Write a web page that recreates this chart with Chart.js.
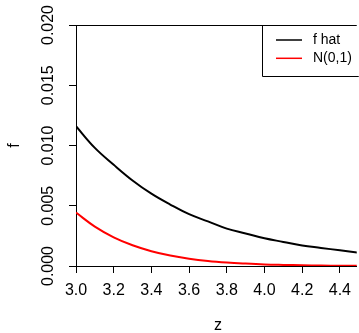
<!DOCTYPE html>
<html>
<head>
<meta charset="utf-8">
<script src="https://cdn.jsdelivr.net/npm/chart.js@4.4.1/dist/chart.umd.min.js"></script>
<style>
  body { margin: 0; background: #fff; }
  #wrap { width: 359px; height: 333px; }
</style>
</head>
<body>
<div id="wrap"><canvas id="densityChart" width="359" height="333"></canvas></div>
<script>
// values
const zValues = [3.0, 3.1, 3.2, 3.3, 3.4, 3.5, 3.6, 3.7, 3.8, 3.9, 4.0, 4.1, 4.2, 4.3, 4.4, 4.5];
const fHat = [0.0116, 0.0098, 0.0084, 0.0071, 0.0060, 0.0051, 0.0043, 0.0037, 0.0031, 0.0027, 0.0023, 0.0020, 0.0017, 0.0015, 0.0013, 0.0011];
const normal01 = [0.00443, 0.00327, 0.00238, 0.00172, 0.00123, 0.00087, 0.00061, 0.00042, 0.00029, 0.00020, 0.00013, 0.00009, 0.00006, 0.00004, 0.00002, 0.00002];
const seriesLabels = ['f hat', 'N(0,1)'];
const seriesColors = ['#000000', '#ff0000'];
const xTitle = 'z';
const yTitle = 'f';

const FONT = '"Liberation Sans", Arial, sans-serif';

function toPoints(ys) {
    return zValues.map((z, i) => ({ x: z, y: ys[i] }));
}

// R style extras: rotated y labels, axis titles, top border, legend box
const rStylePlugin = {
    id: 'rStyle',
    afterDraw(chart) {
        const ctx = chart.ctx;
        const area = chart.chartArea;
        const yScale = chart.scales.y;
        ctx.save();

        // top border of plot box
        ctx.strokeStyle = '#000';
        ctx.lineWidth = 1;
        ctx.beginPath();
        ctx.moveTo(area.left, area.top + 0.5);
        ctx.lineTo(area.right, area.top + 0.5);
        ctx.stroke();

        // y tick labels, rotated
        ctx.fillStyle = '#000';
        ctx.font = '16px ' + FONT;
        ctx.textAlign = 'center';
        ctx.textBaseline = 'middle';
        yScale.ticks.forEach(t => {
            const py = yScale.getPixelForValue(t.value);
            ctx.save();
            ctx.translate(49, py);
            ctx.rotate(-Math.PI / 2);
            ctx.fillText(t.value.toFixed(3), 0, 0);
            ctx.restore();
        });

        // axis titles
        ctx.save();
        ctx.translate(15, (area.top + area.bottom) / 2);
        ctx.rotate(-Math.PI / 2);
        ctx.fillText(yTitle, 0, 0);
        ctx.restore();
        ctx.fillText(xTitle, 218, 326);

        // legend
        const boxLeft = 262.5;
        const boxBottom = 76.5;
        ctx.fillStyle = '#fff';
        ctx.fillRect(boxLeft, area.top + 1, area.right - boxLeft, boxBottom - area.top - 1);
        ctx.strokeStyle = '#000';
        ctx.beginPath();
        ctx.moveTo(boxLeft, area.top);
        ctx.lineTo(boxLeft, boxBottom);
        ctx.lineTo(area.right + 2, boxBottom);
        ctx.stroke();

        ctx.font = '14px ' + FONT;
        ctx.textAlign = 'left';
        chart.data.datasets.forEach((ds, i) => {
            const ly = 40 + i * 18.3;
            ctx.strokeStyle = ds.borderColor;
            ctx.lineWidth = 1.5;
            ctx.beginPath();
            ctx.moveTo(276, ly);
            ctx.lineTo(302, ly);
            ctx.stroke();
            ctx.fillStyle = '#000';
            ctx.fillText(ds.label, 313, ly);
        });

        ctx.restore();
    }
};

const densityChart = new Chart(document.getElementById('densityChart'), {
    type: 'line',
    data: {
        datasets: [
            {
                label: seriesLabels[0],
                data: toPoints(fHat),
                borderColor: seriesColors[0],
                borderWidth: 2,
                pointRadius: 0,
                tension: 0.4,
                fill: false
            },
            {
                label: seriesLabels[1],
                data: toPoints(normal01),
                borderColor: seriesColors[1],
                borderWidth: 2,
                pointRadius: 0,
                tension: 0.4,
                fill: false
            }
        ]
    },
    options: {
        responsive: false,
        animation: false,
        layout: { padding: { top: 25, right: 0, left: 0, bottom: 0 } },
        plugins: {
            legend: { display: false },
            tooltip: { enabled: false }
        },
        scales: {
            x: {
                type: 'linear',
                min: 3.0,
                max: 3.0 + 283 / 190,
                afterFit(scale) { scale.height = 67; },
                border: { display: true, color: '#000', width: 1 },
                grid: { drawOnChartArea: false, drawTicks: true, tickLength: 7, color: '#000' },
                ticks: {
                    stepSize: 0.2,
                    includeBounds: false,
                    autoSkip: false,
                    maxRotation: 0,
                    padding: 8,
                    color: '#000',
                    font: { family: FONT, size: 16 },
                    callback: v => v.toFixed(1)
                }
            },
            y: {
                min: 0,
                max: 0.02,
                afterFit(scale) { scale.width = 76; },
                border: { display: true, color: '#000', width: 1 },
                grid: { drawOnChartArea: false, drawTicks: true, tickLength: 7, color: '#000' },
                ticks: {
                    stepSize: 0.005,
                    color: 'rgba(0,0,0,0)',
                    font: { family: FONT, size: 16 },
                    callback: v => v.toFixed(3)
                }
            }
        }
    },
    plugins: [rStylePlugin]
});
</script>
</body>
</html>
